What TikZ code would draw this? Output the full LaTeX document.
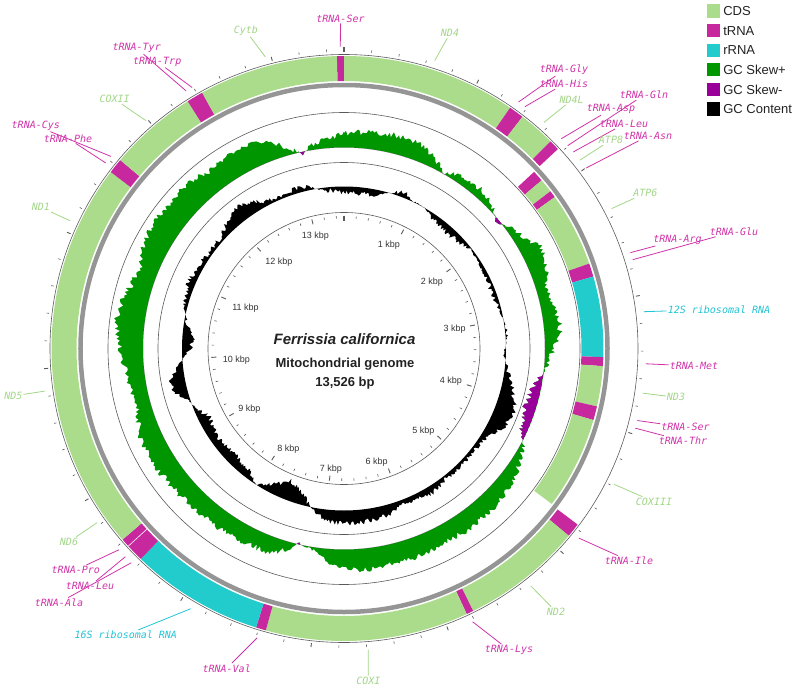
\documentclass[tikz,border=0pt]{standalone}
\usepackage{fontspec}
\setmainfont{Liberation Sans}
\newfontfamily\labfont{DejaVu Sans Mono}[ItalicFont=* Oblique]
\usetikzlibrary{positioning}
\definecolor{cdsfill}{HTML}{AADC8C}
\definecolor{cdstext}{HTML}{A2D688}
\definecolor{trnafill}{HTML}{C8289E}
\definecolor{trnatext}{HTML}{D033A8}
\definecolor{rrnafill}{HTML}{22CCCC}
\definecolor{rrnatext}{HTML}{22C4D4}
\definecolor{skewpos}{HTML}{009600}
\definecolor{skewneg}{HTML}{990099}
\definecolor{ringline}{HTML}{5A5A5A}
\definecolor{backbone}{HTML}{959595}
\definecolor{scaletext}{HTML}{333333}
\definecolor{titletext}{HTML}{222222}

% sampled plot: result macro, baseline, noise, value at 0, angle/value list
\newcommand{\buildplot}[5]{%
  \gdef#1{}\gdef\prevA{0}\gdef\prevD{#4}%
  \foreach \ta/\dv in {#5}{%
    \pgfmathtruncatemacro\nsteps{max(1,round((\ta-\prevA)*2))}%
    \foreach \k in {1,...,\nsteps}{%
      \pgfmathsetmacro\ang{\prevA+(\ta-\prevA)*\k/\nsteps}%
      \pgfmathsetmacro\base{(\prevD)+((\dv)-(\prevD))*\k/\nsteps}%
      \pgfmathsetmacro\rr{#2+\base+#3*rand*min(1,abs(\base)/4+0.15)}%
      \pgfmathsetmacro\xx{\rr*sin(\ang)}%
      \pgfmathsetmacro\yy{\rr*cos(\ang)}%
      \xdef#1{#1 -- (\xx,\yy)}%
    }%
    \xdef\prevA{\ta}\xdef\prevD{\dv}%
  }%
}
\newcommand{\plotfill}[4]{\edef\tmpfill{\noexpand\fill[#1, even odd rule] (0,#3)#2 -- cycle (0,0) circle[radius=#4];}\tmpfill}
\newcommand{\arcband}[5]{\fill[#1] (90-#2:#4) arc[start angle=90-#2, end angle=90-#3, radius=#4] -- (90-#3:#5) arc[start angle=90-#3, end angle=90-#2, radius=#5] -- cycle;}

\pgfmathsetseed{4711}
\buildplot{\skewpts}{201}{3}{14}{5/16, 10/18, 15/18, 20/17, 25/12, 28/4, 29.5/-1, 31/4, 35/8, 40/9, 45/6, 48/2, 50/-2, 51.5/-1, 53/3, 56/6, 60/14, 63/21, 66/18, 70/14, 75/10, 80/14, 84/17, 88/12, 92/6, 96/2, 99/-4, 104/-10, 108/-11, 112/-9, 116/-4, 118/2, 122/8, 128/13, 135/17, 145/18, 155/18, 165/20, 175/21, 182/17, 187/6, 190/2, 193/-1, 196/8, 200/16, 210/17, 220/18, 230/19, 240/22, 245/22, 250/18, 255/14, 262/17, 268/22, 272/24, 277/29, 283/25, 288/20, 292/19, 297/24, 303/27, 310/26, 316/27, 322/22, 326/22, 331/26, 338/21, 342/14, 345/5, 347/1, 348/-2, 349.5/2, 352/6, 356/9, 360/14}
\buildplot{\gcpts}{162}{2.5}{-6}{10/-6, 18/2, 21/6, 24/1, 30/0, 35/-5, 42/-8, 48/-5, 52/-1, 58/-2, 65/-4, 72/-4, 78/-1, 85/2, 92/-2, 98/4, 104/12, 110/20, 116/16, 122/6, 128/3, 135/4, 142/3, 148/7, 155/6, 160/4, 165/10, 175/13, 185/12, 192/0, 196/-12, 202/-19, 208/-8, 213/0, 218/-8, 226/-10, 236/-8, 243/-11, 250/0, 255/12, 259/15, 263/6, 266/0, 270/-8, 274/-11, 278/-4, 283/1, 288/5, 294/7, 300/5, 306/3, 312/4, 317/10, 322/16, 328/10, 333/4, 338/2, 345/6, 352/-2, 360/-6}

\begin{document}
\begin{tikzpicture}[x=1pt, y=1pt,
  ring/.style={draw=ringline, line width=0.6pt},
  scaletick/.style={draw=ringline, line width=0.6pt},
  lab/.style={font=\labfont\itshape\fontsize{10}{12}\selectfont, inner sep=1pt},
  lead/.style={line width=0.8pt},
  kbp/.style={font=\fontsize{9}{10}\selectfont, text=scaletext, inner sep=0pt},
  title/.style={font=\bfseries\fontsize{13}{15}\selectfont, text=titletext, anchor=base},
  legbox/.style={minimum size=13.3pt, inner sep=0pt},
  legtext/.style={font=\fontsize{13}{15}\selectfont, text=titletext, inner sep=0pt},
]
\useasboundingbox (-344,-342.5) rectangle (456,348.5);

% GC content and GC skew
\plotfill{black}{\gcpts}{156}{162}
\plotfill{skewpos}{\skewpts}{215}{201}
\begin{scope}
  \clip (0,0) circle[radius=201];
  \plotfill{skewneg}{\skewpts}{215}{201}
\end{scope}

% rings
\foreach \r in {136,186,236,294}
  \draw[ring] (0,0) circle[radius=\r];
\draw[backbone, line width=4.5pt] (0,0) circle[radius=263.5];

% forward strand features
\foreach \s/\e/\col in {358.6/360/trnafill, 0/34.6/cdsfill, 34.6/37.6/trnafill, 37.6/44.9/cdsfill, 44.9/47.0/trnafill, 127.0/129.8/trnafill, 129.8/153.8/cdsfill, 153.8/155.2/trnafill, 155.2/195.5/cdsfill, 195.5/197.5/trnafill, 197.5/224.0/rrnafill, 224.0/229.2/trnafill, 229.2/307.1/cdsfill, 307.1/310.1/trnafill, 310.1/327.7/cdsfill, 327.7/331.0/trnafill, 331.0/358.6/cdsfill}{
  \arcband{\col}{\s}{\e}{267.5}{292.5}
}
\draw[white, line width=0.6pt] (90-227.5:267.5) -- (90-227.5:292.5);
% reverse strand features
\foreach \s/\e/\col in {47.1/49.6/trnafill, 49.6/52.7/cdsfill, 52.7/54.3/trnafill, 54.3/70.9/cdsfill, 70.9/73.9/trnafill, 73.9/91.9/rrnafill, 91.9/93.9/trnafill, 93.9/102.9/cdsfill, 102.9/106.0/trnafill, 106.0/126.8/cdsfill}{
  \arcband{\col}{\s}{\e}{237.5}{259.5}
}

% ticks every 200 bp, long ones every kbp
\foreach \k in {0,...,67}{
  \pgfmathsetmacro\ang{90-5.32309*\k}
  \pgfmathtruncatemacro\major{mod(\k,5)==0}
  \ifnum\major=1
    \draw[scaletick, line width=0.9pt] (\ang:296.5) -- (\ang:300.5) (\ang:133) -- (\ang:128);
  \else
    \draw[scaletick] (\ang:297) -- (\ang:299.5) (\ang:132.5) -- (\ang:130);
  \fi
}
\draw[scaletick, line width=1.6pt] (90:296.5) -- (90:301) (90:133) -- (90:127.5);

% scale labels
\foreach \k/\x/\y in {1/389/245, 2/432/281.7, 3/454.7/329.3, 4/451/381, 5/423.3/430.7, 6/376.7/462.3, 7/330.8/469.3, 8/288.3/449.3, 9/249.5/409.3, 10/236.3/360, 11/245.5/308.3, 12/278.8/261.7, 13/315.5/235.7}{
  \node[kbp] (k\k) at ({\x-344},{348.5-\y}) {\k\ kbp};
}

% centre title
\node[title, font=\bfseries\itshape\fontsize{15}{18}\selectfont] (species) at (0.5,3.8) {Ferrissia californica};
\node[title] (kind) at (1,-18.9) {Mitochondrial genome};
\node[title] (size) at (1,-38.2) {13,526 bp};

% feature labels with leader lines
\foreach \n/\txt/\col/\x/\y/\ang in {
  serA/tRNA-Ser/trnatext/340.5/18.5/359.3, ndfour/ND4/cdstext/450/33.3/17.5,
  gly/tRNA-Gly/trnatext/564/70/35.3, his/tRNA-His/trnatext/564/84/36.8,
  ndfourl/ND4L/cdstext/571.7/100/41.5, gln/tRNA-Gln/trnatext/644/95/47.8,
  asp/tRNA-Asp/trnatext/611/109.3/46.0, leuA/tRNA-Leu/trnatext/624/124/49.4,
  atpeight/ATP8/cdstext/611/140/51.4, asn/tRNA-Asn/trnatext/648/136/53.3,
  atpsix/ATP6/cdstext/645.3/193.3/62.4, arg/tRNA-Arg/trnatext/677.5/240/71.5,
  glu/tRNA-Glu/trnatext/734/231.7/72.9, rrns/12S ribosomal RNA/rrnatext/719/309.3/83.0,
  met/tRNA-Met/trnatext/694/366/92.9, ndthree/ND3/cdstext/676/397.3/98.5,
  serB/tRNA-Ser/trnatext/685.5/427.3/103.8, thr/tRNA-Thr/trnatext/683/440.7/105.3,
  coxthree/COXIII/cdstext/654/501.7/116.7, ile/tRNA-Ile/trnatext/629/560.7/128.9,
  ndtwo/ND2/cdstext/556/611.7/141.8, lys/tRNA-Lys/trnatext/509/650/154.8,
  coxone/COXI/cdstext/368.3/680.7/175.4, val/tRNA-Val/trnatext/226.7/668.3/196.7,
  rrnl/16S ribosomal RNA/rrnatext/125.8/635/210.5, pro/tRNA-Pro/trnatext/75.8/570/228.2,
  leuB/tRNA-Leu/trnatext/90/586/226.4, ala/tRNA-Ala/trnatext/59/602.7/224.8,
  ndsix/ND6/cdstext/69/541.7/234.8, ndfive/ND5/cdstext/13.3/396/261.9,
  ndone/ND1/cdstext/40.8/207.3/295.0, cys/tRNA-Cys/trnatext/35.8/125.7/309.5,
  phe/tRNA-Phe/trnatext/68/138.3/307.9, coxtwo/COXII/cdstext/114.7/99.3/319.0,
  tyr/tRNA-Tyr/trnatext/136.7/48.3/328.5, trp/tRNA-Trp/trnatext/157.2/61.7/329.8,
  cytb/Cytb/cdstext/245.8/30.7/344.9}{
  \coordinate (p\n) at (90-\ang:302);
  \node[lab, text=\col] (l\n) at ({\x-344},{348.5-\y}) {\txt};
  \draw[lead, draw=\col] (p\n) -- (l\n);
}

% legend
\foreach \i/\col/\txt in {0/cdsfill/CDS, 1/trnafill/tRNA, 2/rrnafill/rRNA, 3/skewpos/GC Skew+, 4/skewneg/GC Skew-, 5/black/GC Content}{
  \node[legbox, fill=\col] (box\i) at (369.3,{337.5-19.6*\i}) {};
  \node[legtext, right=3pt of box\i] (leg\i) {\txt};
}
\end{tikzpicture}
\end{document}
